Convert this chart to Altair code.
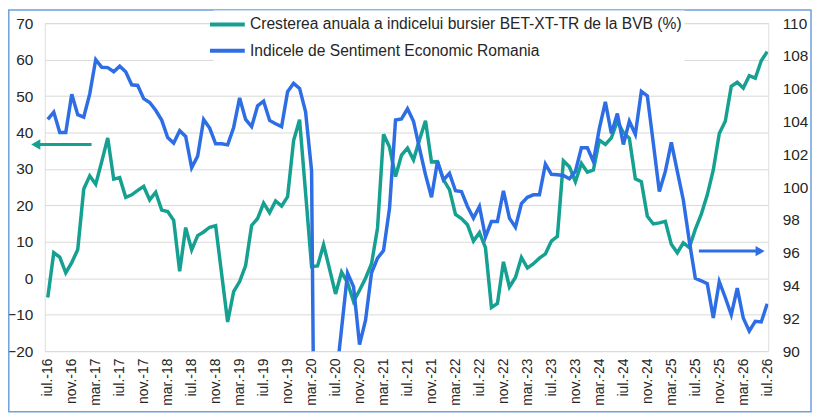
import json
import altair as alt
import pandas as pd

SERIES_GREEN = "Cresterea anuala a indicelui bursier BET-XT-TR de la BVB (%)"
SERIES_BLUE = "Indicele de Sentiment Economic Romania"
TEAL = "#15a091"
BLUE = "#2e6ee4"
FONT = "Liberation Sans"

# Monthly values, iul.-16 ... iul.-26 (121 months)
green = [
    -5.3, 7.0, 5.8, 1.5, 4.3, 7.9, 24.5, 28.1, 25.8, 32.0,
    38.5, 27.2, 27.6, 22.2, 22.9, 24.1, 25.2, 21.5, 23.6, 18.7,
    18.3, 15.9, 1.9, 13.9, 7.8, 11.7, 12.7, 14.0, 14.4, 1.2,
    -12.0, -3.7, -0.9, 3.5, 14.5, 16.4, 20.6, 18.0, 21.2, 19.8,
    22.4, 37.8, 43.5, 23.4, 3.2, 3.4, 9.2, 2.5, -4.3, 1.7,
    -1.2, -6.4, -3.3, 0.0, 4.0, 13.8, 39.5, 36.0, 27.9, 33.8,
    35.7, 32.5, 38.0, 43.2, 31.9, 32.0, 27.0, 24.3, 17.5, 16.4,
    14.7, 10.2, 12.5, 8.4, -8.0, -6.9, 4.5, -2.4, 0.2, 5.7,
    2.8, 4.0, 5.5, 6.7, 10.2, 11.5, 32.2, 30.6, 26.5, 31.5,
    29.1, 29.7, 37.9, 36.7, 38.5, 43.1, 40.0, 38.4, 27.3, 26.5,
    17.0, 14.9, 15.2, 15.6, 9.3, 7.0, 9.7, 8.4, 13.4, 17.6,
    22.9, 29.7, 39.7, 43.1, 52.7, 53.8, 52.2, 55.6, 54.9, 59.7,
    62.2,
]
blue = [
    104.13, 104.58, 103.33, 103.33, 105.67, 104.42, 104.27, 105.69, 107.78, 107.31,
    107.29, 107.04, 107.38, 107.04, 106.24, 106.20, 105.40, 105.16, 104.69, 104.09,
    103.02, 102.69, 103.44, 103.09, 101.18, 101.89, 104.13, 103.60, 102.64, 102.64,
    102.58, 103.64, 105.44, 104.13, 103.69, 104.96, 105.24, 104.07, 103.87, 103.69,
    105.82, 106.33, 106.02, 104.60, 101.00, 60.00, 65.00, 75.00, 88.00, 91.36,
    94.76, 93.93, 90.40, 91.89, 94.78, 95.67, 96.13, 98.71, 104.09, 104.16,
    104.78, 104.02, 102.36, 100.76, 99.38, 101.56, 100.44, 100.84, 99.78, 99.73,
    98.82, 98.11, 98.82, 96.96, 97.91, 97.91, 99.78, 98.11, 97.56, 99.00,
    99.38, 99.53, 99.53, 101.40, 100.78, 100.76, 100.71, 100.51, 100.96, 102.40,
    102.40, 101.56, 103.58, 105.20, 103.27, 104.49, 102.60, 104.02, 103.22, 105.84,
    105.56, 102.67, 99.73, 100.96, 102.73, 100.96, 99.22, 96.71, 94.44, 94.29,
    94.11, 92.02, 94.24, 93.27, 92.22, 93.84, 92.02, 91.22, 91.82, 91.78,
    92.89,
]
tick_labels = [
    "iul.-16", "nov.-16", "mar.-17", "iul.-17", "nov.-17", "mar.-18", "iul.-18",
    "nov.-18", "mar.-19", "iul.-19", "nov.-19", "mar.-20", "iul.-20", "nov.-20",
    "mar.-21", "iul.-21", "nov.-21", "mar.-22", "iul.-22", "nov.-22", "mar.-23",
    "iul.-23", "nov.-23", "mar.-24", "iul.-24", "nov.-24", "mar.-25", "iul.-25",
    "nov.-25", "mar.-26", "iul.-26",
]
left_ticks = [-20, -10, 0, 10, 20, 30, 40, 50, 60, 70]
right_ticks = [90, 92, 94, 96, 98, 100, 102, 104, 106, 108, 110]

# arrows (month position of tail / head, axis value)
green_arrow = {"tail": [7.3], "head": [-2.0], "v": [36.7]}
blue_arrow = {"tail": [108.6], "head": [118.8], "v": [96.1]}

df_g = pd.DataFrame({"m": list(range(len(green))), "v": green, "s": SERIES_GREEN})
df_b = pd.DataFrame({"m": list(range(len(blue))), "v": blue, "s": SERIES_BLUE})
df_ga = pd.DataFrame(green_arrow)
df_ba = pd.DataFrame(blue_arrow)

xscale = alt.Scale(domain=[-0.5, 120.17], nice=False, zero=False)
lscale = alt.Scale(domain=[-20, 70], nice=False, zero=False)
rscale = alt.Scale(domain=[90, 110], nice=False, zero=False)

x_axis = alt.Axis(
    values=list(range(0, 121, 4)),
    labelExpr=json.dumps(tick_labels) + "[round(datum.value / 4)]",
    labelAngle=270, labelAlign="right", labelBaseline="middle",
    labelPadding=7, labelFontSize=14, labelFont=FONT, labelColor="#262626",
    labelOverlap=False, ticks=False, domain=False, grid=False, title=None,
)
left_axis = alt.Axis(
    values=left_ticks, orient="left", grid=True, gridColor="#d9d9d9", gridWidth=1,
    domain=False, ticks=False, labelPadding=12, labelFontSize=15.5, labelFont=FONT,
    labelColor="#262626", title=None,
)
right_axis = alt.Axis(
    values=right_ticks, orient="right", grid=False, domain=False, ticks=False,
    labelPadding=14, labelFontSize=15.5, labelFont=FONT, labelColor="#262626", title=None,
)

color = alt.Color(
    "s:N",
    scale=alt.Scale(domain=[SERIES_GREEN, SERIES_BLUE], range=[TEAL, BLUE]),
    legend=alt.Legend(
        orient="none", legendX=169.75, legendY=-12.75, title=None,
        symbolType="M-2,0H2", symbolSize=306, symbolStrokeWidth=4,
        labelFontSize=15.7, labelFont=FONT, labelColor="#262626", labelOffset=11.75,
        labelLimit=600, rowPadding=7.5, padding=3, fillColor="white",
    ),
)

green_line = alt.Chart(df_g).mark_line(strokeWidth=3.5, clip=True).encode(
    x=alt.X("m:Q", scale=xscale, axis=x_axis),
    y=alt.Y("v:Q", scale=lscale, axis=left_axis),
    color=color,
)
green_rule = alt.Chart(df_ga).mark_rule(color=TEAL, strokeWidth=3).encode(
    x=alt.X("tail:Q", scale=xscale, axis=x_axis),
    x2="head:Q",
    y=alt.Y("v:Q", scale=lscale, axis=left_axis),
)
green_head = alt.Chart(df_ga).mark_point(
    shape="triangle-left", filled=True, color=TEAL, size=110, opacity=1
).encode(
    x=alt.X("head:Q", scale=xscale, axis=x_axis),
    y=alt.Y("v:Q", scale=lscale, axis=left_axis),
)
frame = alt.Chart(pd.DataFrame({"f": [0]})).mark_rect(
    filled=False, stroke="#6f9fdc", strokeWidth=1.5
).encode(
    x=alt.value(-36.2), x2=alt.value(771), y=alt.value(-13.2), y2=alt.value(391)
)

blue_line = alt.Chart(df_b).mark_line(strokeWidth=3.5, clip=True).encode(
    x=alt.X("m:Q", scale=xscale, axis=x_axis),
    y=alt.Y("v:Q", scale=rscale, axis=right_axis),
    color=color,
)
blue_rule = alt.Chart(df_ba).mark_rule(color=BLUE, strokeWidth=3).encode(
    x=alt.X("tail:Q", scale=xscale, axis=x_axis),
    x2="head:Q",
    y=alt.Y("v:Q", scale=rscale, axis=right_axis),
)
blue_head = alt.Chart(df_ba).mark_point(
    shape="triangle-right", filled=True, color=BLUE, size=110, opacity=1
).encode(
    x=alt.X("head:Q", scale=xscale, axis=x_axis),
    y=alt.Y("v:Q", scale=rscale, axis=right_axis),
)

left_group = alt.layer(frame, green_line, green_rule, green_head)
right_group = alt.layer(blue_line, blue_rule, blue_head)

chart = (
    alt.layer(left_group, right_group)
    .resolve_scale(y="independent")
    .properties(
        width=728, height=330,
        autosize=alt.AutoSizeParams(type="none"),
        padding={"left": 37, "top": 14, "right": 44, "bottom": 62},
    )
    .configure_view(stroke=None)
    .configure(background="white")
)

chart.save("out.html", embed_options={"renderer": "svg", "actions": False})
